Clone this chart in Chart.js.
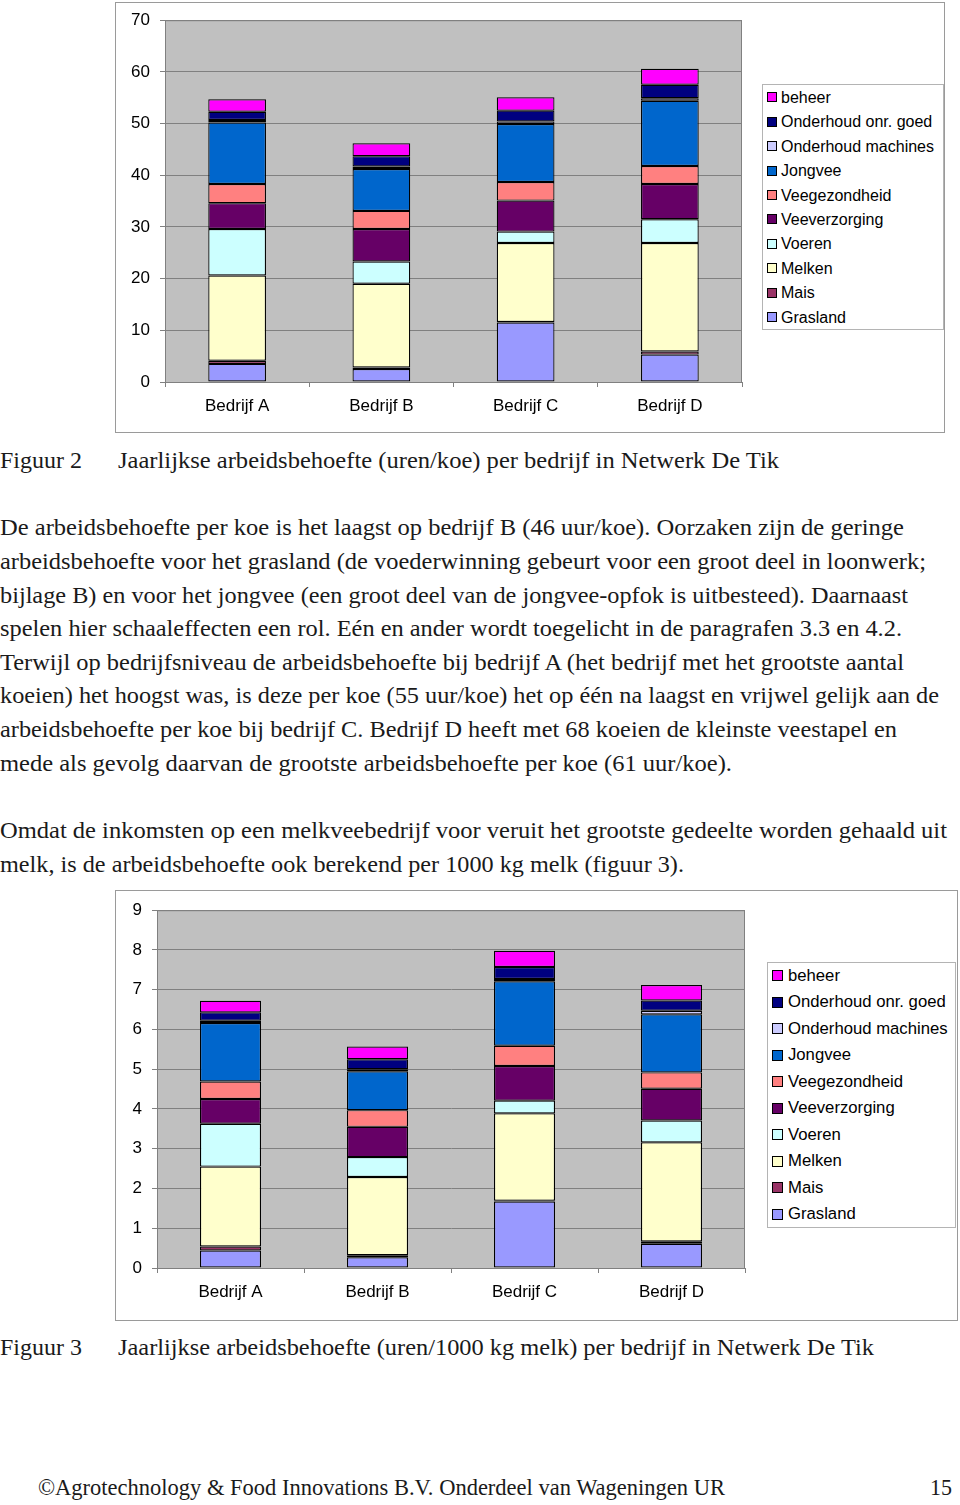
<!DOCTYPE html>
<html>
<head>
<meta charset="utf-8">
<script src="https://cdn.jsdelivr.net/npm/chart.js@4.4.0/dist/chart.umd.min.js"></script>
<style>
  html, body { margin: 0; padding: 0; background: #fff; }
  body { width: 960px; height: 1505px; position: relative; overflow: hidden; }
  .frame { position: absolute; border: 1px solid #9a9a9a; box-sizing: border-box; background: #fff; }
  canvas { position: absolute; }
  .t { position: absolute; left: 0; white-space: nowrap; font-family: "Liberation Serif", serif;
       font-size: 23px; line-height: 34px; color: #1a1a1a; transform-origin: left center; }
  .legend { position: absolute; border: 1px solid #b4b4b4; box-sizing: border-box; background: #fff; }
  .li { position: absolute; white-space: nowrap; font-family: "Liberation Sans", Arial, sans-serif; color: #000; }
  .li span { position: absolute; border: 1px solid #000; box-sizing: border-box; }
</style>
</head>
<body>

<div class="frame" style="left:115px; top:2px; width:830px; height:431px;"></div>
<canvas id="chart1" style="left:115px; top:0px; width:640px; height:430px;"></canvas>
<div class="legend" id="legend1" style="left:762px; top:84px; width:182px; height:246px;"></div>

<div class="t" style="top:444px;" data-w="82">Figuur 2</div>
<div class="t" style="top:444px; left:118px;" data-w="661">Jaarlijkse arbeidsbehoefte (uren/koe) per bedrijf in Netwerk De Tik</div>

<div class="t" style="top:511px;" data-w="904">De arbeidsbehoefte per koe is het laagst op bedrijf B (46 uur/koe). Oorzaken zijn de geringe</div>
<div class="t" style="top:545px;" data-w="926">arbeidsbehoefte voor het grasland (de voederwinning gebeurt voor een groot deel in loonwerk;</div>
<div class="t" style="top:579px;" data-w="908">bijlage B) en voor het jongvee (een groot deel van de jongvee-opfok is uitbesteed). Daarnaast</div>
<div class="t" style="top:612px;" data-w="902">spelen hier schaaleffecten een rol. Eén en ander wordt toegelicht in de paragrafen 3.3 en 4.2.</div>
<div class="t" style="top:646px;" data-w="904">Terwijl op bedrijfsniveau de arbeidsbehoefte bij bedrijf A (het bedrijf met het grootste aantal</div>
<div class="t" style="top:679px;" data-w="939">koeien) het hoogst was, is deze per koe (55 uur/koe) het op één na laagst en vrijwel gelijk aan de</div>
<div class="t" style="top:713px;" data-w="897">arbeidsbehoefte per koe bij bedrijf C. Bedrijf D heeft met 68 koeien de kleinste veestapel en</div>
<div class="t" style="top:747px;" data-w="732">mede als gevolg daarvan de grootste arbeidsbehoefte per koe (61 uur/koe).</div>

<div class="t" style="top:814px;" data-w="947">Omdat de inkomsten op een melkveebedrijf voor veruit het grootste gedeelte worden gehaald uit</div>
<div class="t" style="top:848px;" data-w="684">melk, is de arbeidsbehoefte ook berekend per 1000 kg melk (figuur 3).</div>

<div class="frame" style="left:115px; top:890px; width:843px; height:431px;"></div>
<canvas id="chart2" style="left:115px; top:890px; width:650px; height:430px;"></canvas>
<div class="legend" id="legend2" style="left:767px; top:962px; width:189px; height:266px;"></div>

<div class="t" style="top:1331px;" data-w="82">Figuur 3</div>
<div class="t" style="top:1331px; left:118px;" data-w="756">Jaarlijkse arbeidsbehoefte (uren/1000 kg melk) per bedrijf in Netwerk De Tik</div>

<div class="t" style="top:1471px; left:38px;" data-w="687">©Agrotechnology &amp; Food Innovations B.V. Onderdeel van Wageningen UR</div>
<div class="t" style="top:1471px; left:930px;" data-w="22">15</div>

<script>
// categorieën en reeksen (onder naar boven gestapeld)
const categories = ['Bedrijf A', 'Bedrijf B', 'Bedrijf C', 'Bedrijf D'];
const seriesNames = ['Grasland', 'Mais', 'Melken', 'Voeren', 'Veeverzorging', 'Veegezondheid',
                     'Jongvee', 'Onderhoud machines', 'Onderhoud onr. goed', 'beheer'];
const seriesColors = ['#9999FF', '#993366', '#FFFFCC', '#CCFFFF', '#660066', '#FF8080',
                      '#0066CC', '#CCCCFF', '#000080', '#FF00FF'];

// Figuur 2: uren per koe
const koeGrasland   = [3.5, 2.5, 11.5, 5.3];
const koeMais       = [0.6, 0.3, 0.1, 0.6];
const koeMelken     = [16.5, 16.2, 15.3, 21.0];
const koeVoeren     = [9.0, 4.3, 2.2, 4.6];
const koeVerzorging = [5.0, 6.3, 6.0, 6.8];
const koeGezondheid = [3.7, 3.5, 3.6, 3.5];
const koeJongvee    = [11.9, 8.1, 11.2, 12.6];
const koeMachines   = [0.5, 0.5, 0.5, 0.5];
const koeOnrGoed    = [1.6, 2.0, 2.1, 2.6];
const koeBeheer     = [2.4, 2.5, 2.6, 3.1];
const koeTicks = [0, 10, 20, 30, 40, 50, 60, 70];

// Figuur 3: uren per 1000 kg melk
const melkGrasland   = [0.44, 0.27, 1.67, 0.61];
const melkMais       = [0.10, 0.05, 0.02, 0.06];
const melkMelken     = [2.01, 1.97, 2.20, 2.49];
const melkVoeren     = [1.08, 0.50, 0.32, 0.55];
const melkVerzorging = [0.62, 0.76, 0.87, 0.80];
const melkGezondheid = [0.44, 0.42, 0.51, 0.41];
const melkJongvee    = [1.47, 0.98, 1.62, 1.46];
const melkMachines   = [0.06, 0.05, 0.06, 0.09];
const melkOnrGoed    = [0.21, 0.25, 0.30, 0.26];
const melkBeheer     = [0.29, 0.32, 0.41, 0.39];
const melkTicks = [0, 1, 2, 3, 4, 5, 6, 7, 8, 9];

const koeSeries = [koeGrasland, koeMais, koeMelken, koeVoeren, koeVerzorging, koeGezondheid,
                   koeJongvee, koeMachines, koeOnrGoed, koeBeheer];
const melkSeries = [melkGrasland, melkMais, melkMelken, melkVoeren, melkVerzorging, melkGezondheid,
                    melkJongvee, melkMachines, melkOnrGoed, melkBeheer];

const plotArea = {
    id: 'plotArea',
    beforeDraw(chart) {
        const a = chart.chartArea, ctx = chart.ctx;
        ctx.save();
        ctx.fillStyle = '#C0C0C0';
        ctx.fillRect(a.left, a.top, a.right - a.left, a.bottom - a.top);
        ctx.restore();
    },
    afterDraw(chart) {
        const a = chart.chartArea, ctx = chart.ctx;
        ctx.save();
        ctx.strokeStyle = '#808080';
        ctx.lineWidth = 1;
        ctx.strokeRect(a.left + 0.5, a.top + 0.5, a.right - a.left - 1, a.bottom - a.top);
        ctx.restore();
    }
};

function makeChart(id, series, ticks, cfg) {
    const datasets = series.map((data, i) => ({
        label: seriesNames[i],
        data: data,
        backgroundColor: seriesColors[i],
        borderColor: '#000',
        borderWidth: 1.2,
        borderSkipped: false,
        barPercentage: cfg.bar,
        categoryPercentage: 1
    }));

    return new Chart(document.getElementById(id), {
        type: 'bar',
        data: { labels: categories, datasets: datasets },
        options: {
            responsive: false,
            animation: false,
            devicePixelRatio: 1,
            layout: { padding: cfg.padding },
            plugins: { legend: { display: false }, tooltip: { enabled: false } },
            scales: {
                x: {
                    stacked: true,
                    grid: { offset: true, drawOnChartArea: false, drawTicks: true, tickLength: 5, color: '#808080' },
                    border: { display: true, color: '#808080' },
                    ticks: { color: '#000', padding: 9, font: { family: 'Liberation Sans', size: 17 } },
                    afterFit: s => { s.height = 40; }
                },
                y: {
                    stacked: true,
                    min: 0,
                    max: ticks[ticks.length - 1],
                    afterBuildTicks: s => { s.ticks = ticks.map(v => ({ value: v })); },
                    grid: { color: '#808080', tickLength: 5, tickColor: '#808080' },
                    border: { display: true, color: '#808080' },
                    ticks: { color: '#000', padding: 10, font: { family: 'Liberation Sans', size: 17 } },
                    afterFit: s => { s.width = cfg.yWidth; }
                }
            }
        },
        plugins: [plotArea]
    });
}

function makeLegend(id, cfg) {
    const box = document.getElementById(id);
    const order = seriesNames.map((n, i) => i).reverse();
    order.forEach((idx, k) => {
        const cy = cfg.first + k * cfg.step;
        const item = document.createElement('div');
        item.className = 'li';
        item.style.left = '0px';
        item.style.top = (cy - cfg.top - cfg.font * 0.6) + 'px';
        item.style.height = (cfg.font * 1.2) + 'px';
        item.style.lineHeight = (cfg.font * 1.2) + 'px';
        item.style.fontSize = cfg.font + 'px';
        item.style.paddingLeft = cfg.textX + 'px';
        const sw = document.createElement('span');
        sw.style.left = cfg.sqX + 'px';
        sw.style.top = (cfg.font * 0.6 - cfg.sq / 2) + 'px';
        sw.style.width = cfg.sq + 'px';
        sw.style.height = cfg.sq + 'px';
        sw.style.background = seriesColors[idx];
        item.appendChild(sw);
        item.appendChild(document.createTextNode(seriesNames[idx]));
        box.appendChild(item);
    });
}

makeChart('chart1', koeSeries, koeTicks, { bar: 0.40, yWidth: 50, padding: { left: 0, right: 13, top: 18, bottom: 8 } });
makeChart('chart2', melkSeries, melkTicks, { bar: 0.415, yWidth: 42, padding: { left: 0, right: 20, top: 16, bottom: 12 } });

makeLegend('legend1', { top: 85, first: 97.5, step: 24.4, font: 16, sqX: 4, sq: 10, textX: 18 });
makeLegend('legend2', { top: 963, first: 975.7, step: 26.5, font: 16.7, sqX: 4, sq: 11, textX: 20 });

// tekstregels op de juiste breedte brengen
document.querySelectorAll('.t[data-w]').forEach(el => {
    const target = parseFloat(el.dataset.w);
    const w = el.getBoundingClientRect().width;
    if (w > 0) el.style.transform = 'scaleX(' + (target / w) + ')';
});
</script>
</body>
</html>
